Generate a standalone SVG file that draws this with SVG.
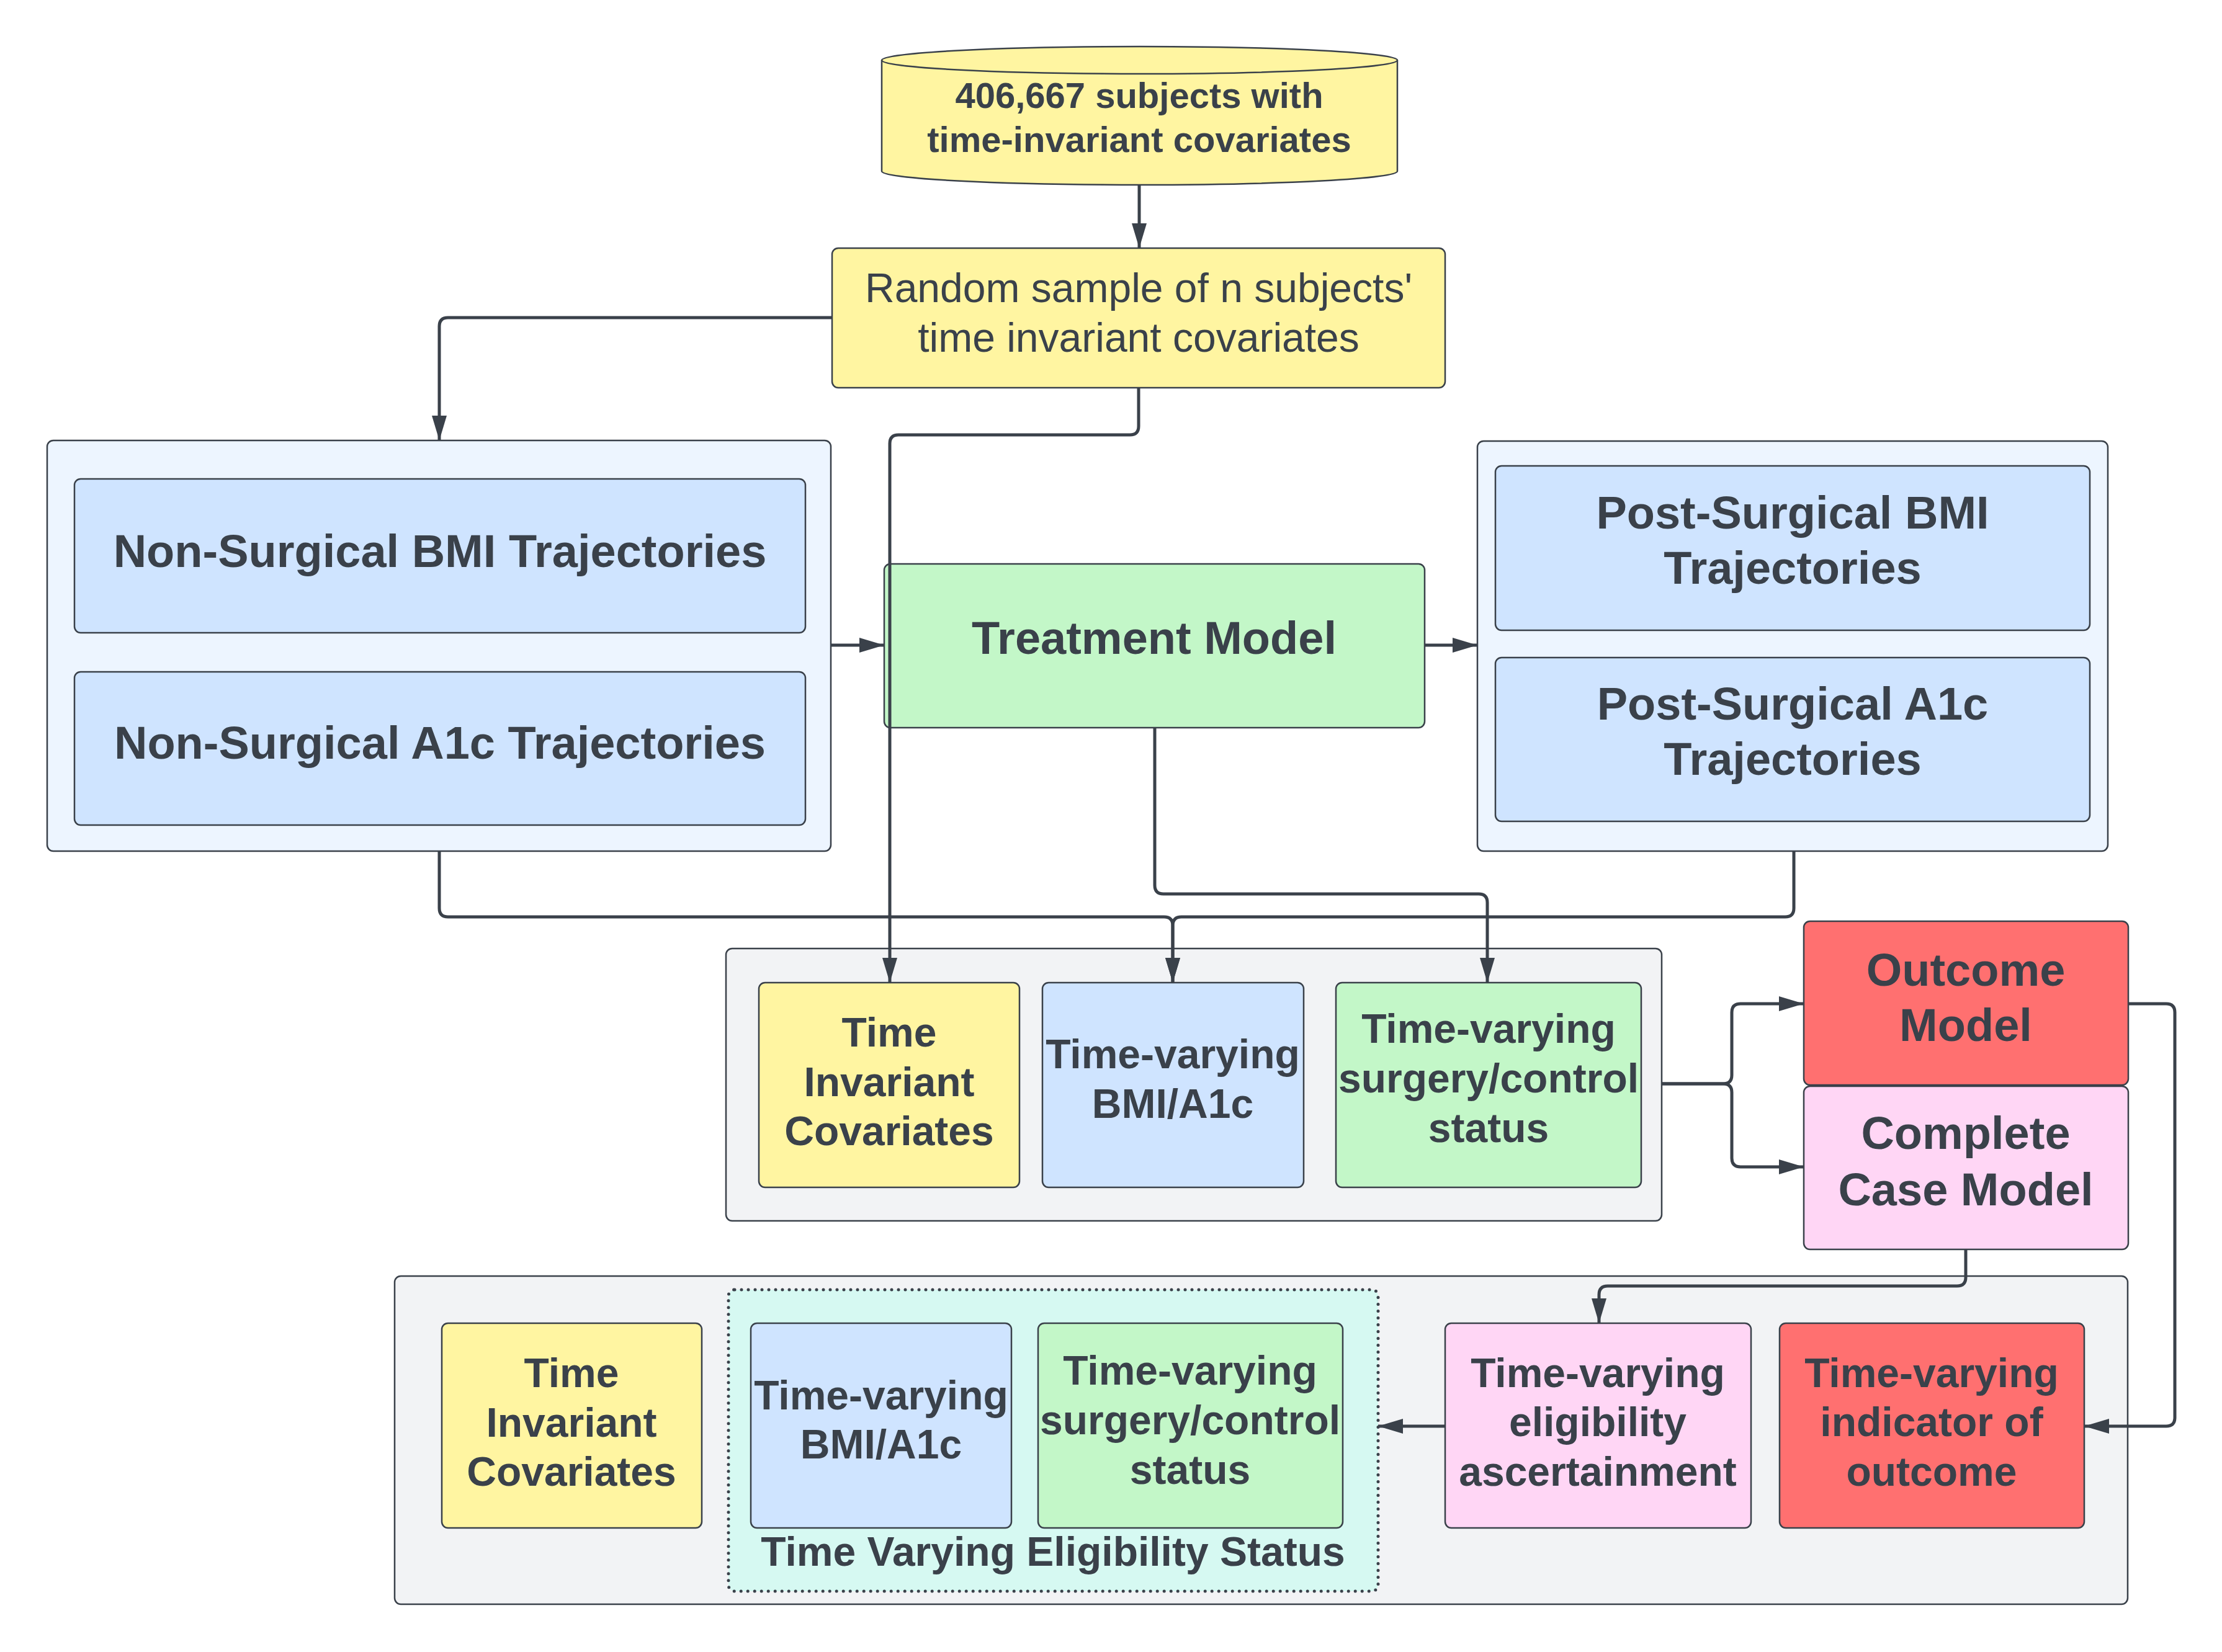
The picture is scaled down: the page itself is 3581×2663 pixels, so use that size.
<svg xmlns="http://www.w3.org/2000/svg" width="3581" height="2663" viewBox="0 0 3581 2663">
<style>
text{font-family:"Liberation Sans",Arial,sans-serif;fill:#3A414A;text-anchor:middle}
.b{font-weight:bold}
.f74{font-size:74px}
.f66{font-size:66px}
.f58{font-size:58px}
.box{stroke:#3A414A;stroke-width:2.5}
.yel{fill:#FFF5A1}
.blu{fill:#CFE4FF}
.grn{fill:#C3F7C8}
.red{fill:#FF7070}
.pnk{fill:#FFD6F5}
.lb{fill:#EDF5FF}
.gry{fill:#F2F3F5}
.dot{fill:#D6F9F2;stroke:#3A414A;stroke-width:5;stroke-dasharray:0 11;stroke-linecap:round}
.c{fill:none;stroke:#3A414A;stroke-width:5}
.a{marker-end:url(#ah)}
</style>
<defs>
<marker id="ah" markerUnits="userSpaceOnUse" markerWidth="40" markerHeight="24" refX="40" refY="12" orient="auto">
<path d="M0,0 L40,12 L0,24 Z" fill="#3A414A"/>
</marker>
</defs>
<rect width="3581" height="2663" fill="#FFFFFF"/>

<g id="containers">
<g id="nonsurgical-group"><rect class="box lb" x="76" y="710" width="1263" height="662" rx="10"/></g>
<g id="postsurgical-group"><rect class="box lb" x="2381" y="711" width="1016" height="661" rx="10"/></g>
<g id="middle-group"><rect class="box gry" x="1170" y="1529" width="1508" height="439" rx="10"/></g>
<g id="bottom-group"><rect class="box gry" x="636" y="2057" width="2793" height="529" rx="10"/></g>
<g id="eligibility-group"><rect class="dot" x="1174" y="2079" width="1047" height="486" rx="10"/>
<text class="b f66" x="1697" y="2524">Time Varying Eligibility Status</text></g>
</g>

<g id="database">
<path class="box yel" d="M1421,97 A415.5,22 0 0 1 2252,97 L2252,276 A415.5,22 0 0 1 1421,276 Z"/>
<path class="box" fill="none" d="M1421,97 A415.5,22 0 0 0 2252,97"/>
<text class="b f58" x="1836" y="174">406,667 subjects with</text>
<text class="b f58" x="1836" y="245">time-invariant covariates</text>
</g>

<g id="random-sample">
<rect class="box yel" x="1341" y="400" width="988" height="225" rx="10"/>
<text class="f66" x="1835" y="487">Random sample of n subjects'</text>
<text class="f66" x="1835" y="567">time invariant covariates</text>
</g>

<g id="nonsurg-bmi">
<rect class="box blu" x="120" y="772" width="1178" height="248" rx="10"/>
<text class="b f74" x="709" y="914">Non-Surgical BMI Trajectories</text>
</g>
<g id="nonsurg-a1c">
<rect class="box blu" x="120" y="1083" width="1178" height="247" rx="10"/>
<text class="b f74" x="709" y="1223">Non-Surgical A1c Trajectories</text>
</g>

<g id="treatment-model">
<rect class="box grn" x="1425" y="909" width="871" height="264" rx="10"/>
<text class="b f74" x="1860" y="1054">Treatment Model</text>
</g>

<g id="postsurg-bmi">
<rect class="box blu" x="2410" y="751" width="958" height="265" rx="10"/>
<text class="b f74" x="2889" y="852">Post-Surgical BMI</text>
<text class="b f74" x="2889" y="941">Trajectories</text>
</g>
<g id="postsurg-a1c">
<rect class="box blu" x="2410" y="1060" width="958" height="264" rx="10"/>
<text class="b f74" x="2889" y="1160">Post-Surgical A1c</text>
<text class="b f74" x="2889" y="1249">Trajectories</text>
</g>

<g id="ti-covariates">
<rect class="box yel" x="1223" y="1584" width="420" height="330" rx="10"/>
<text class="b f66" x="1433" y="1687">Time</text>
<text class="b f66" x="1433" y="1767">Invariant</text>
<text class="b f66" x="1433" y="1846">Covariates</text>
</g>
<g id="tv-bmi">
<rect class="box blu" x="1680" y="1584" width="421" height="330" rx="10"/>
<text class="b f66" x="1890" y="1722">Time-varying</text>
<text class="b f66" x="1890" y="1802">BMI/A1c</text>
</g>
<g id="tv-surgery">
<rect class="box grn" x="2153" y="1584" width="492" height="330" rx="10"/>
<text class="b f66" x="2399" y="1681">Time-varying</text>
<text class="b f66" x="2399" y="1761">surgery/control</text>
<text class="b f66" x="2399" y="1841">status</text>
</g>

<g id="outcome-model">
<rect class="box red" x="2907" y="1485" width="523" height="264" rx="10"/>
<text class="b f74" x="3168" y="1589">Outcome</text>
<text class="b f74" x="3168" y="1678">Model</text>
</g>
<g id="complete-case-model">
<rect class="box pnk" x="2907" y="1751" width="523" height="263" rx="10"/>
<text class="b f74" x="3168" y="1852">Complete</text>
<text class="b f74" x="3168" y="1943">Case Model</text>
</g>

<g id="ti-covariates-2">
<rect class="box yel" x="712" y="2133" width="419" height="330" rx="10"/>
<text class="b f66" x="921" y="2236">Time</text>
<text class="b f66" x="921" y="2316">Invariant</text>
<text class="b f66" x="921" y="2395">Covariates</text>
</g>
<g id="tv-bmi-2">
<rect class="box blu" x="1210" y="2133" width="420" height="330" rx="10"/>
<text class="b f66" x="1420" y="2272">Time-varying</text>
<text class="b f66" x="1420" y="2351">BMI/A1c</text>
</g>
<g id="tv-surgery-2">
<rect class="box grn" x="1673" y="2133" width="491" height="330" rx="10"/>
<text class="b f66" x="1918" y="2232">Time-varying</text>
<text class="b f66" x="1918" y="2312">surgery/control</text>
<text class="b f66" x="1918" y="2392">status</text>
</g>
<g id="tv-eligibility">
<rect class="box pnk" x="2329" y="2133" width="493" height="330" rx="10"/>
<text class="b f66" x="2575" y="2236">Time-varying</text>
<text class="b f66" x="2575" y="2315">eligibility</text>
<text class="b f66" x="2575" y="2395">ascertainment</text>
</g>
<g id="tv-outcome">
<rect class="box red" x="2868" y="2133" width="491" height="330" rx="10"/>
<text class="b f66" x="3113" y="2236">Time-varying</text>
<text class="b f66" x="3113" y="2315">indicator of</text>
<text class="b f66" x="3113" y="2395">outcome</text>
</g>

<g id="connectors">
<path class="c a" d="M1836,298 V400"/>
<path class="c a" d="M1341,512 H722 Q708,512 708,526 V710"/>
<path class="c a" d="M1835,625 V687 Q1835,701 1821,701 H1448 Q1434,701 1434,715 V1584"/>
<path class="c a" d="M1339,1040 H1425"/>
<path class="c a" d="M2296,1040 H2381"/>
<path class="c a" d="M708,1372 V1464 Q708,1478 722,1478 H1876 Q1890,1478 1890,1492 V1584"/>
<path class="c a" d="M2891,1372 V1464 Q2891,1478 2877,1478 H1904 Q1890,1478 1890,1492 V1584"/>
<path class="c a" d="M1861,1173 V1427 Q1861,1441 1875,1441 H2383 Q2397,1441 2397,1455 V1584"/>
<path class="c a" d="M2678,1747 H2777 Q2791,1747 2791,1733 V1632 Q2791,1618 2805,1618 H2907"/>
<path class="c a" d="M2678,1747 H2777 Q2791,1747 2791,1761 V1867 Q2791,1881 2805,1881 H2907"/>
<path class="c a" d="M3430,1618 H3491 Q3505,1618 3505,1632 V2285 Q3505,2299 3491,2299 H3359"/>
<path class="c a" d="M3168,2014 V2059 Q3168,2073 3154,2073 H2591 Q2577,2073 2577,2087 V2133"/>
<path class="c a" d="M2329,2299 H2221"/>
</g>
</svg>
